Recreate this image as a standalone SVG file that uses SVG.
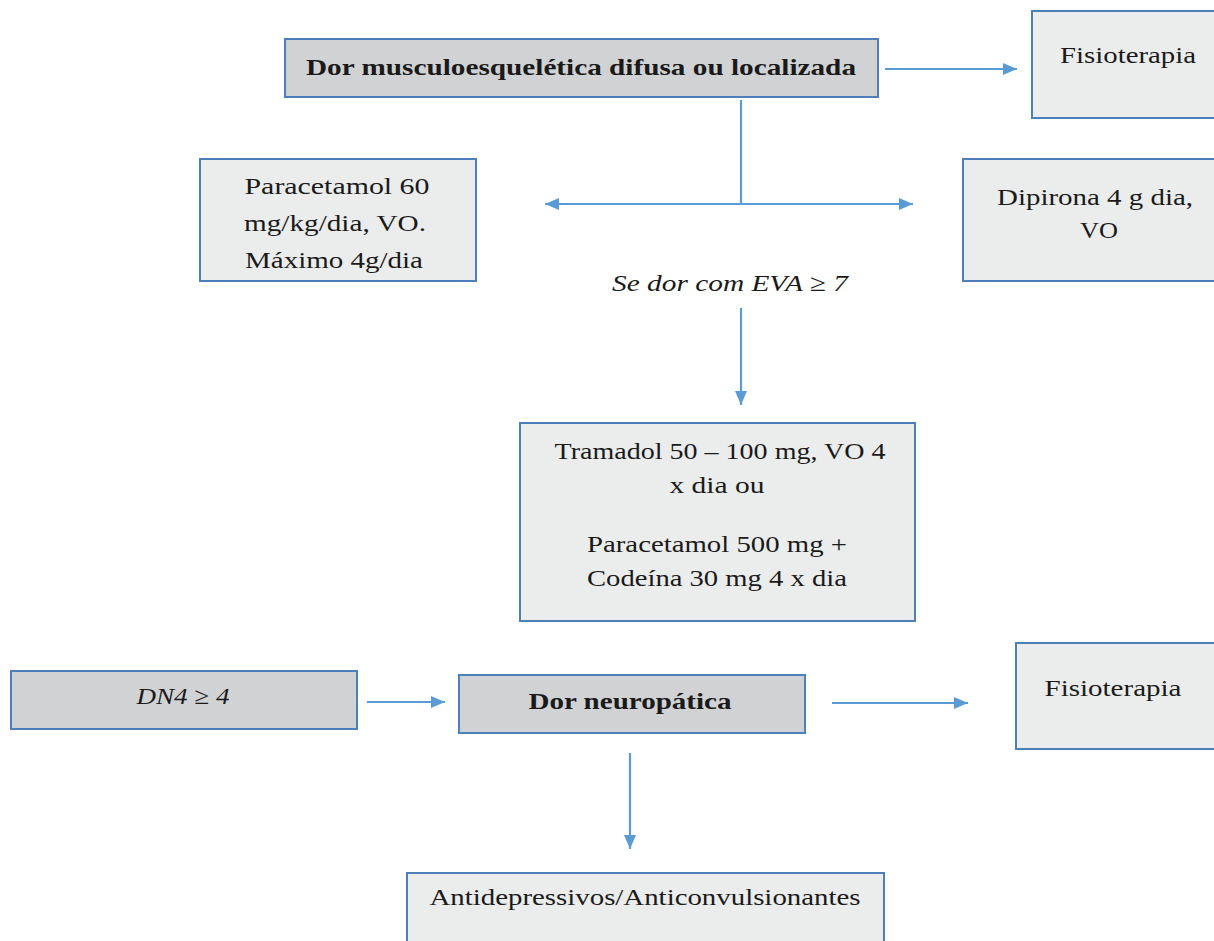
<svg xmlns="http://www.w3.org/2000/svg" width="1214" height="941" viewBox="0 0 1214 941">
<style>
.box{stroke:#4f7fb8;stroke-width:2}
.dark{fill:#d1d2d4}
.light{fill:#ebecec}
.t{font-family:"Liberation Serif","Times New Roman",serif;font-size:24px;fill:#1a1a1a;text-anchor:middle}
.b{font-weight:bold}
.i{font-style:italic}
.c{stroke:#5b9bd5;stroke-width:2.2;fill:none}
</style>
<defs>
<marker id="ah" markerUnits="userSpaceOnUse" markerWidth="14" markerHeight="14" viewBox="0 0 14 14" refX="14" refY="7" orient="auto-start-reverse">
<path d="M0,1 L14,7 L0,13 z" fill="#5b9bd5"/>
</marker>
</defs>
<rect width="1214" height="941" fill="#ffffff"/>
<g id="n-main">
<rect class="box dark" x="285" y="39" width="593" height="58"/>
<text class="t b" x="581" y="75" textLength="550" lengthAdjust="spacingAndGlyphs">Dor musculoesquelética difusa ou localizada</text>
</g>
<g id="n-fisio1">
<rect class="box light" x="1032" y="11" width="200" height="107"/>
<text class="t" x="1128" y="63" textLength="136" lengthAdjust="spacingAndGlyphs">Fisioterapia</text>
</g>
<g id="n-paracetamol">
<rect class="box light" x="200" y="159" width="276" height="122"/>
<text class="t" x="337" y="194" textLength="185" lengthAdjust="spacingAndGlyphs">Paracetamol 60</text>
<text class="t" x="335" y="231" textLength="182" lengthAdjust="spacingAndGlyphs">mg/kg/dia, VO.</text>
<text class="t" x="334" y="268" textLength="178" lengthAdjust="spacingAndGlyphs">Máximo 4g/dia</text>
</g>
<g id="n-dipirona">
<rect class="box light" x="963" y="159" width="260" height="122"/>
<text class="t" x="1095" y="205" textLength="196" lengthAdjust="spacingAndGlyphs">Dipirona 4 g dia,</text>
<text class="t" x="1099" y="238" textLength="38" lengthAdjust="spacingAndGlyphs">VO</text>
</g>
<text class="t i" x="730" y="291" textLength="236" lengthAdjust="spacingAndGlyphs">Se dor com EVA ≥ 7</text>
<g id="n-tramadol">
<rect class="box light" x="520" y="423" width="395" height="198"/>
<text class="t" x="720" y="459" textLength="331" lengthAdjust="spacingAndGlyphs">Tramadol 50 – 100 mg, VO 4</text>
<text class="t" x="717" y="493" textLength="95" lengthAdjust="spacingAndGlyphs">x dia ou</text>
<text class="t" x="717" y="552" textLength="260" lengthAdjust="spacingAndGlyphs">Paracetamol 500 mg +</text>
<text class="t" x="717" y="586" textLength="260" lengthAdjust="spacingAndGlyphs">Codeína 30 mg 4 x dia</text>
</g>
<g id="n-dn4">
<rect class="box dark" x="11" y="671" width="346" height="58"/>
<text class="t i" x="183" y="704" textLength="93" lengthAdjust="spacingAndGlyphs">DN4 ≥ 4</text>
</g>
<g id="n-neuro">
<rect class="box dark" x="459" y="675" width="346" height="58"/>
<text class="t b" x="630" y="709" textLength="203" lengthAdjust="spacingAndGlyphs">Dor neuropática</text>
</g>
<g id="n-fisio2">
<rect class="box light" x="1016" y="643" width="210" height="106"/>
<text class="t" x="1113" y="696" textLength="137" lengthAdjust="spacingAndGlyphs">Fisioterapia</text>
</g>
<g id="n-anti">
<rect class="box light" x="407" y="873" width="477" height="90"/>
<text class="t" x="645" y="905" textLength="431" lengthAdjust="spacingAndGlyphs">Antidepressivos/Anticonvulsionantes</text>
</g>
<g id="connectors">
<path class="c" d="M885,69 H1017" marker-end="url(#ah)"/>
<path class="c" d="M741,100 V204"/>
<path class="c" d="M545,204 H913" marker-start="url(#ah)" marker-end="url(#ah)"/>
<path class="c" d="M741,308 V405" marker-end="url(#ah)"/>
<path class="c" d="M367,702 H445" marker-end="url(#ah)"/>
<path class="c" d="M832,703 H968" marker-end="url(#ah)"/>
<path class="c" d="M630,753 V849" marker-end="url(#ah)"/>
</g>
</svg>
